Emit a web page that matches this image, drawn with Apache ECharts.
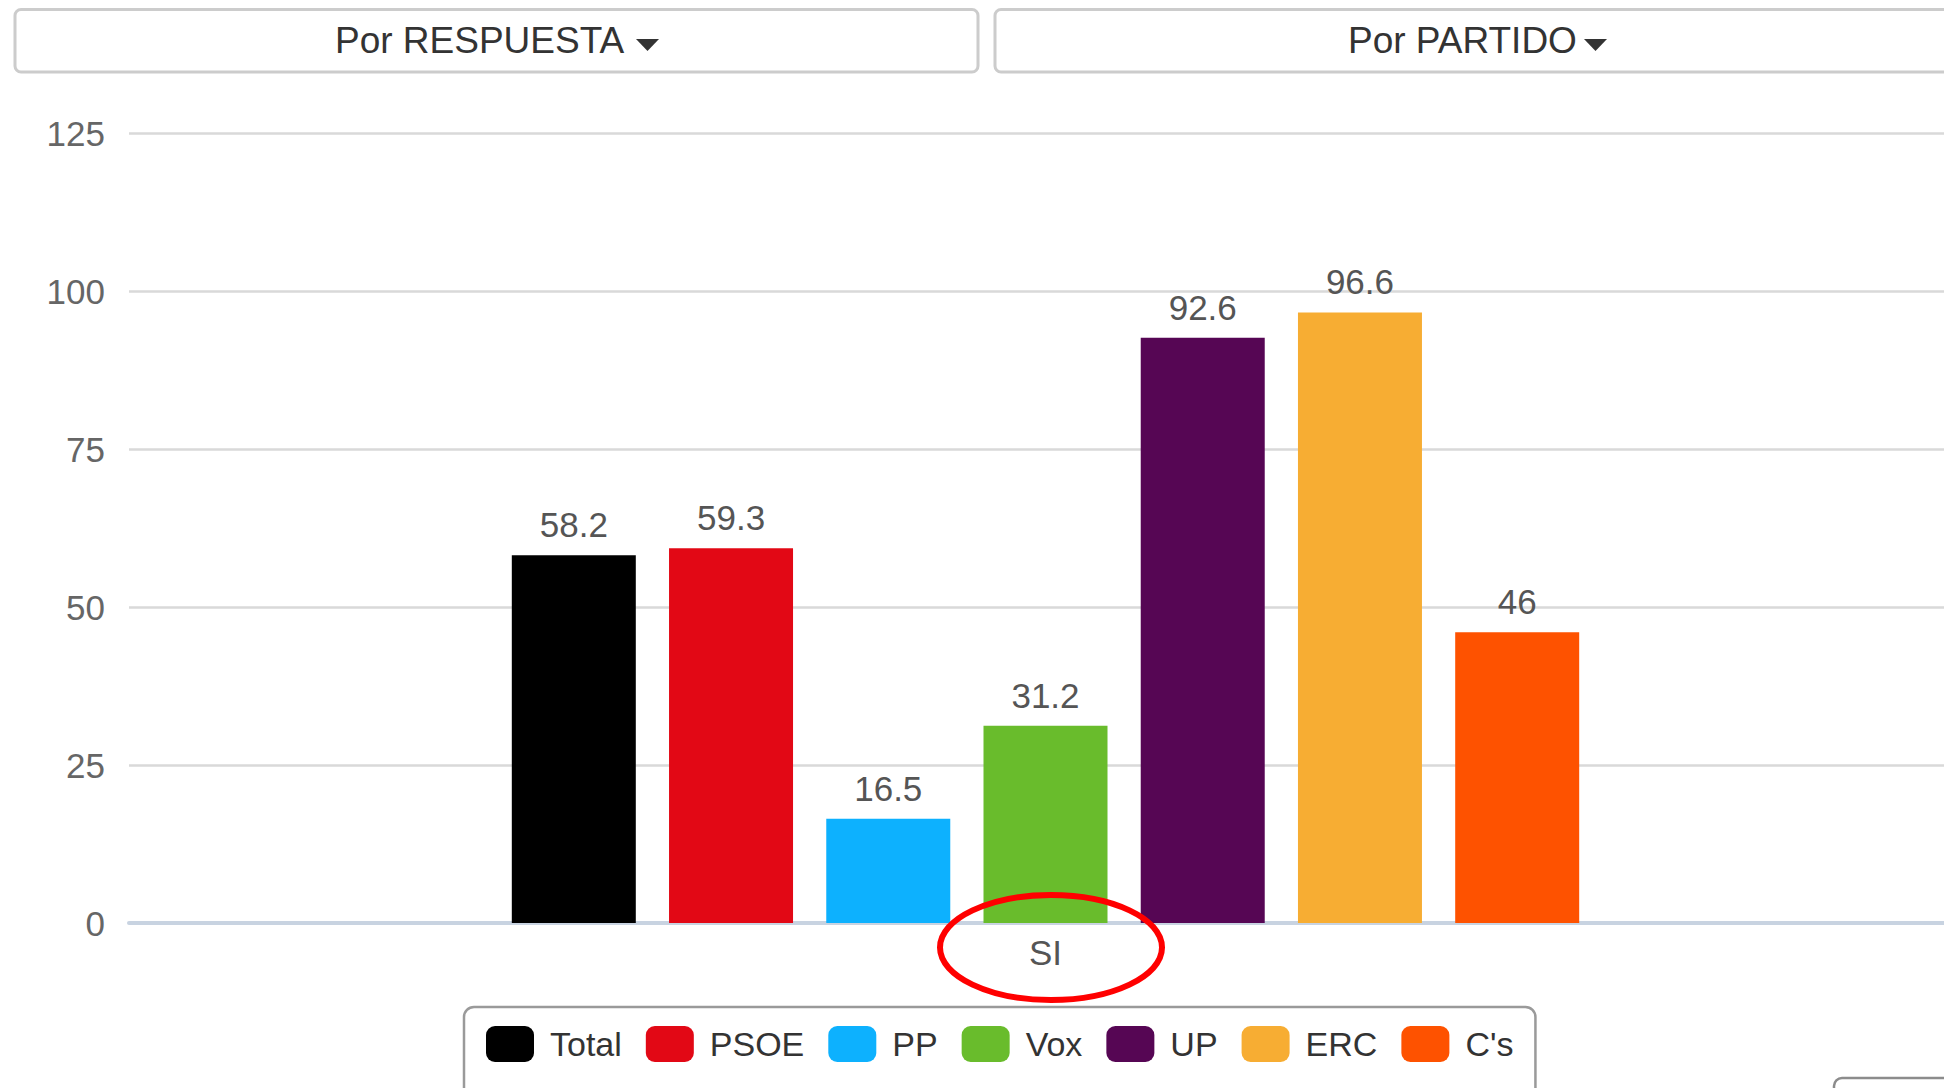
<!DOCTYPE html>
<html>
<head>
<meta charset="utf-8">
<script src="https://cdn.jsdelivr.net/npm/echarts@6/dist/echarts.min.js"></script>
<style>
  html, body { margin: 0; padding: 0; background: #ffffff; overflow: hidden; width: 1944px; height: 1088px; }
  #chart { width: 1962px; height: 1088px; }
</style>
</head>
<body>
<div id="chart"></div>
<script>
// ---- data ----
const categories = ['SI'];
const seriesNames = ['Total', 'PSOE', 'PP', 'Vox', 'UP', 'ERC', "C's"];
const seriesValues = [58.2, 59.3, 16.5, 31.2, 92.6, 96.6, 46];
const seriesColors = ['#000000', '#e20815', '#0db1fe', '#69bc2c', '#560654', '#f7ad33', '#fe5200'];
const yTicks = { min: 0, max: 125, interval: 25 };
const buttonLabels = ['Por RESPUESTA', 'Por PARTIDO'];

const FONT = '"Liberation Sans", Arial, sans-serif';

const chart = echarts.init(document.getElementById('chart'), null, { renderer: 'svg' });

const series = seriesNames.map((name, i) => ({
  name: name,
  type: 'bar',
  data: [seriesValues[i]],
  barWidth: 124,
  barGap: '26.8%',
  itemStyle: { color: seriesColors[i] },
  label: {
    show: true,
    position: 'top',
    distance: 13,
    color: '#555555',
    fontSize: 35,
    fontFamily: FONT
  }
}));

const option = {
  backgroundColor: '#ffffff',
  animation: false,
  grid: { left: 129, top: 133, right: 0, height: 790, outerBoundsMode: 'none' },
  xAxis: {
    type: 'category',
    data: categories,
    axisLine: { show: true, lineStyle: { color: '#c8d3e1', width: 4 } },
    axisTick: { show: false },
    axisLabel: { color: '#555555', fontSize: 35, fontFamily: FONT, margin: 12 },
    splitLine: { show: false }
  },
  yAxis: {
    type: 'value',
    min: yTicks.min,
    max: yTicks.max,
    interval: yTicks.interval,
    axisLine: { show: false },
    axisTick: { show: false },
    axisLabel: { color: '#666666', fontSize: 35, fontFamily: FONT, margin: 24 },
    splitLine: { lineStyle: { color: '#d9d9d9', width: 2.5 } }
  },
  legend: {
    data: seriesNames,
    left: 464,
    top: 1007,
    orient: 'horizontal',
    icon: 'roundRect',
    itemWidth: 48,
    itemHeight: 36,
    itemGap: 24,
    padding: [19, 22, 40, 22],
    borderColor: '#9a9a9a',
    borderWidth: 2.5,
    borderRadius: 10,
    textStyle: { color: '#333333', fontSize: 34, fontFamily: FONT, padding: [0, 0, 0, 11] }
  },
  graphic: [
    { type: 'rect', z: 100, shape: { x: 15, y: 9.5, width: 963, height: 62.5, r: 6 },
      style: { fill: '#ffffff', stroke: '#cccccc', lineWidth: 3 } },
    { type: 'rect', z: 100, shape: { x: 995, y: 9.5, width: 966, height: 62.5, r: 6 },
      style: { fill: '#ffffff', stroke: '#cccccc', lineWidth: 3 } },
    { type: 'text', z: 101, x: 335, y: 40.5,
      style: { text: buttonLabels[0], fill: '#333333', font: '37px ' + FONT, textAlign: 'left', textVerticalAlign: 'middle' } },
    { type: 'polygon', z: 101, shape: { points: [[636, 39], [659, 39], [647.5, 51]] }, style: { fill: '#333333' } },
    { type: 'text', z: 101, x: 1348, y: 40.5,
      style: { text: buttonLabels[1], fill: '#333333', font: '37px ' + FONT, textAlign: 'left', textVerticalAlign: 'middle' } },
    { type: 'polygon', z: 101, shape: { points: [[1584, 39], [1607, 39], [1595.5, 51]] }, style: { fill: '#333333' } },
    { type: 'ellipse', z: 100, shape: { cx: 1051, cy: 947.5, rx: 111, ry: 52.5 },
      style: { fill: 'none', stroke: '#ff0000', lineWidth: 6 } },
    { type: 'rect', z: 100, shape: { x: 1834, y: 1078, width: 140, height: 40, r: 8 },
      style: { fill: '#ffffff', stroke: '#8c8c8c', lineWidth: 2.5 } }
  ],
  series: series
};

chart.setOption(option);
</script>
</body>
</html>
